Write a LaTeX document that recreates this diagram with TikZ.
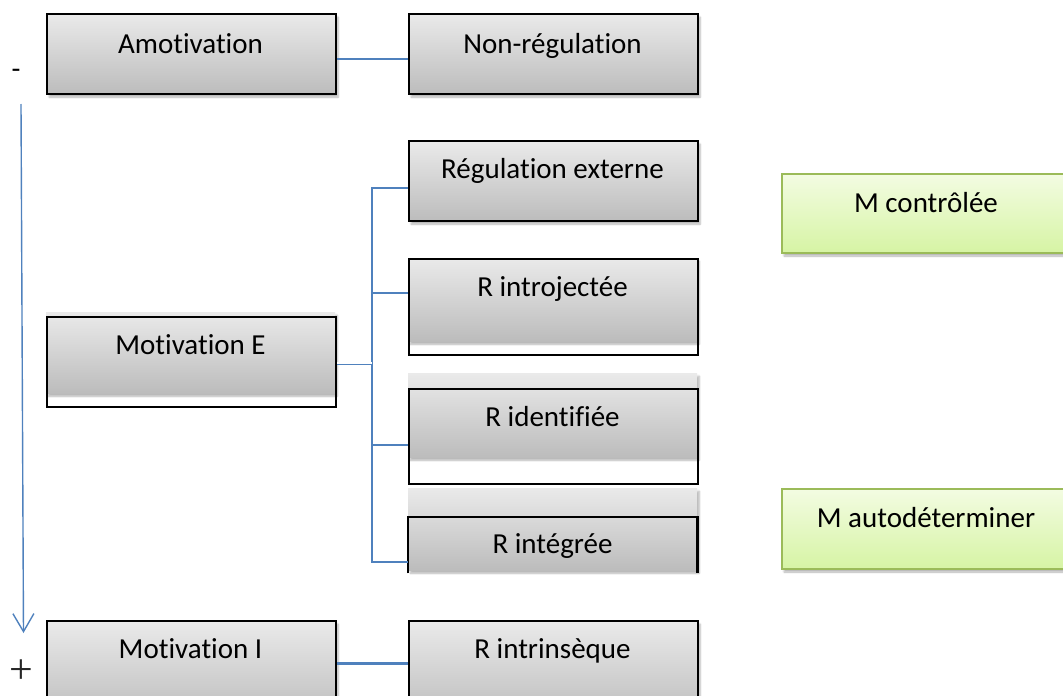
\documentclass[tikz,border=0pt]{standalone}
\usepackage{fontspec}
\setmainfont{Carlito}[Ligatures=NoCommon]
\newfontfamily\plusfont{Liberation Serif}
\usetikzlibrary{arrows.meta,shadows.blur}
\definecolor{lnblue}{RGB}{79,129,189}
\definecolor{gtop}{RGB}{234,234,234}
\definecolor{gbot}{RGB}{188,188,188}
\definecolor{grtop}{RGB}{243,252,226}
\definecolor{grbot}{RGB}{214,244,164}
\definecolor{grline}{RGB}{155,187,89}
\tikzset{
  soft shadow/.style={blur shadow={shadow xshift=2pt, shadow yshift=-3pt, shadow blur steps=6, shadow opacity=30}},
  shade box/.style={rectangle, inner sep=0pt, anchor=north west, top color=gtop, bottom color=gbot, soft shadow},
  frame box/.style={rectangle, inner sep=0pt, anchor=north west, draw=black, line width=2.2pt},
  full box/.style={shade box, draw=black, line width=2.2pt},
  green box/.style={rectangle, inner sep=0pt, anchor=north west, top color=grtop, bottom color=grbot, draw=grline, line width=2pt, soft shadow},
  lbl/.style={font=\fontsize{29}{34}\selectfont, inner sep=0pt, anchor=base},
  conn/.style={draw=lnblue, line width=2pt},
}
\begin{document}
\begin{tikzpicture}[x=1pt,y=-1pt]
\path[use as bounding box] (0,0) rectangle (1063,696);
\clip (0,0) rectangle (1063,696);

% gray boxes
\node[full box, minimum width=289pt, minimum height=80pt] (amo) at (46,13) {};
\node[full box, minimum width=289pt, minimum height=80pt] (nonreg) at (408,13) {};
\node[full box, minimum width=289pt, minimum height=80pt] (regext) at (408,140) {};
\node[shade box, minimum width=289pt, minimum height=83pt] (introjG) at (408,258) {};
\node[frame box, minimum width=289pt, minimum height=96pt] (introjF) at (408,258) {};
\node[shade box, minimum width=289pt, minimum height=84pt] (identG) at (408,373) {};
\node[frame box, minimum width=289pt, minimum height=95pt] (identF) at (408,388) {};
\node[shade box, minimum width=289pt, minimum height=82pt] (integG) at (408,488) {};
\node[rectangle, inner sep=0pt, anchor=north west, minimum width=289pt, minimum height=56pt] (integF) at (408,517) {};
\draw[black, line width=2.2pt] (integF.south west) -- (integF.north west) -- (integF.north east) -- (integF.south east);
\node[shade box, minimum width=289pt, minimum height=81pt] (motEG) at (46,312) {};
\node[frame box, minimum width=289pt, minimum height=90pt] (motEF) at (46,316) {};
\node[full box, minimum width=289pt, minimum height=100pt] (motI) at (46,620) {};
\node[full box, minimum width=289pt, minimum height=100pt] (intrin) at (408,620) {};

% green boxes
\node[green box, minimum width=290pt, minimum height=79pt] (mcont) at (781,173) {};
\node[green box, minimum width=290pt, minimum height=80pt] (mauto) at (781,488) {};

% labels
\node[lbl] (tamo) at (190.5,53) {Amotivation};
\node[lbl] (tnonreg) at (552.5,53) {Non-régulation};
\node[lbl] (tregext) at (552.5,178) {Régulation externe};
\node[lbl] (tintroj) at (552.5,296) {R introjectée};
\node[lbl] (tident) at (552.5,426) {R identifiée};
\node[lbl] (tinteg) at (552.5,553) {R intégrée};
\node[lbl] (tmotE) at (190.5,354) {Motivation E};
\node[lbl] (tmotI) at (190.5,658) {Motivation I};
\node[lbl] (tintrin) at (552.5,658) {R intrinsèque};
\node[lbl] (tmcont) at (926,212) {M contrôlée};
\node[lbl] (tmauto) at (926,527) {M autodéterminer};
\node[lbl] (minus) at (16,78) {-};
\node[inner sep=0pt, text=black!85, font=\plusfont\fontsize{42}{48}\selectfont] (plus) at (21,672) {+};

% connectors
\draw[conn] (amo.east |- 0,59) -- (nonreg.west |- 0,59);
\coordinate (bus1) at (372,188);
\coordinate (bus4) at (372,562);
\draw[conn] (regext.west |- bus1) -- (bus1) -- (bus4) -- (integG.west |- bus4);
\draw[conn] (bus1 |- 0,293) -- (introjF.west |- 0,293);
\draw[conn] (bus1 |- 0,445) -- (identF.west |- 0,445);
\draw[lnblue, line width=0.9pt, double=white, double distance=1.2pt] (motEF.east |- 0,363) -- (bus1 |- 0,363);
\draw[conn, line width=3pt] (motI.east |- 0,663) -- (intrin.west |- 0,663);

% scale arrow
\coordinate (atop) at (21,104);
\coordinate (abot) at (23.5,633);
\draw[lnblue, line width=1.4pt, -{Straight Barb[length=18pt,width=21pt]}] (atop) -- (abot);
\end{tikzpicture}
\end{document}
